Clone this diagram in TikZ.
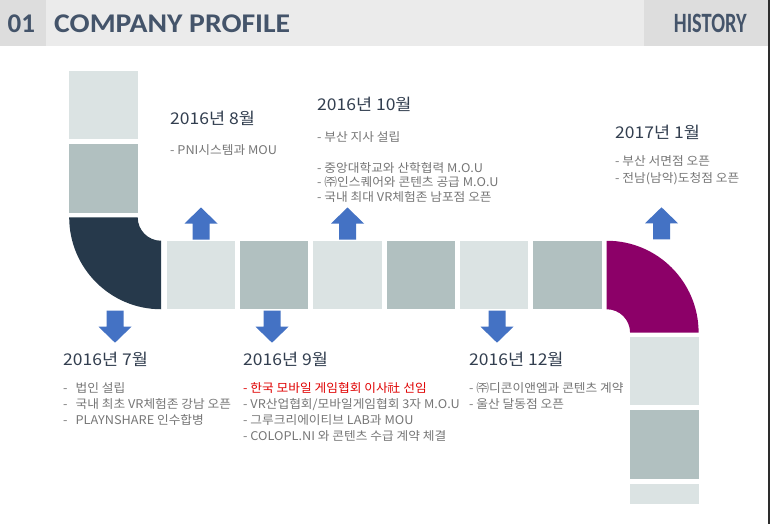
\documentclass[tikz,border=0pt]{standalone}
\usepackage{fontspec}
\setmainfont{Carlito}
\newfontfamily\kr{Noto Sans CJK KR}[FakeStretch=1.08]
\newfontfamily\krb{Noto Sans CJK KR}[FakeStretch=1.06]
\definecolor{hdrband}{RGB}{235,235,235}
\definecolor{hdrbox}{RGB}{221,221,221}
\definecolor{hdrtext}{RGB}{68,84,106}
\definecolor{sqlight}{RGB}{219,227,227}
\definecolor{sqdark}{RGB}{177,192,192}
\definecolor{navy}{RGB}{38,57,75}
\definecolor{plum}{RGB}{140,0,104}
\definecolor{arrowblue}{RGB}{68,114,196}
\definecolor{titlec}{RGB}{50,62,79}
\definecolor{bulletc}{RGB}{118,118,118}
\definecolor{redc}{RGB}{224,0,0}
\definecolor{edgeline}{RGB}{45,45,45}
\tikzset{
  sqbox/.style={minimum size=68.5pt, inner sep=0pt, draw=none},
  hdr/.style={anchor=base west, inner sep=0pt, text=hdrtext, font=\bfseries\fontsize{27}{27}\selectfont},
  yeartitle/.style={anchor=base west, inner sep=0pt, text=titlec, font=\kr\fontsize{16.2}{16.2}\selectfont},
  bul/.style={anchor=base west, inner sep=0pt, text=bulletc, font=\krb\fontsize{12}{12}\selectfont},
  uparrow/.pic={\fill[arrowblue] (0,-16) -- (16.5,0) -- (8.5,0) -- (8.5,16) -- (-8.5,16) -- (-8.5,0) -- (-16.5,0) -- cycle;}
}
\begin{document}
\begin{tikzpicture}[x=1pt,y=-1pt]
\fill[white] (0,0) rectangle (773,524);
\useasboundingbox (0,0) rectangle (773,524);
% header
\fill[hdrband] (0,0) rectangle (768,45.7);
\fill[hdrbox] (0,0) rectangle (45.8,45.7);
\fill[hdrbox] (644,0) rectangle (768,45.7);
\fill[edgeline] (768,0) rectangle (770,524);
\node[hdr] (num) at (7.5,33) {01};
\node[hdr] (ttl) at (54,33) {\scalebox{1.1}[1]{COMPANY PROFILE}};
\node[hdr, anchor=base east, font=\bfseries\fontsize{28}{28}\selectfont] (hist) at (747,33) {\scalebox{0.73}[1]{HISTORY}};
% left column
\node[sqbox, fill=sqlight] (l1) at (103.4,105.1) {};
\node[sqbox, fill=sqdark] (l2) at (103.4,178.5) {};
\fill[navy] (137.7,217.35) -- (69.2,217.35) arc[start angle=180, end angle=90, radius=91.9] -- (161.1,240.75) arc[start angle=90, end angle=180, radius=23.4] -- cycle;
% row
\node[sqbox, fill=sqlight] (r1) at (200.75,275) {};
\node[sqbox, fill=sqdark] (r2) at (274.1,275) {};
\node[sqbox, fill=sqlight] (r3) at (347.45,275) {};
\node[sqbox, fill=sqdark] (r4) at (420.8,275) {};
\node[sqbox, fill=sqlight] (r5) at (494.15,275) {};
\node[sqbox, fill=sqdark] (r6) at (567.5,275) {};
% right elbow
\fill[plum] (606.7,309.25) -- (606.7,240.75) arc[start angle=270, end angle=360, radius=91.9] -- (630.1,332.65) arc[start angle=0, end angle=-90, radius=23.4] -- cycle;
% right column
\node[sqbox, fill=sqlight] (c1) at (664.35,371.15) {};
\node[sqbox, fill=sqdark] (c2) at (664.35,444.5) {};
\fill[sqlight] (630.1,483.6) rectangle (698.6,503.5);
% arrows
\pic at (201,223.5) {uparrow};
\pic at (347.5,223.5) {uparrow};
\pic at (661.5,223.3) {uparrow};
\pic[rotate=180] at (115,326.7) {uparrow};
\pic[rotate=180] at (272,326.7) {uparrow};
\pic[rotate=180] at (497,326.7) {uparrow};
% 2016.8
\node[yeartitle] (t8) at (170,124.5) {2016년 8월};
\node[bul] (b8a) at (170,154.4) {- PNI시스템과 MOU};
% 2016.10
\node[yeartitle] (t10) at (317,111) {2016년 10월};
\node[bul] (b10a) at (317,141) {- 부산 지사 설립};
\node[bul] (b10b) at (317,172.6) {- 중앙대학교와 산학협력 M.O.U};
\node[bul] (b10c) at (317,186.8) {- ㈜인스퀘어와 콘텐츠 공급 M.O.U};
\node[bul] (b10d) at (317,201) {- 국내 최대 VR체험존 남포점 오픈};
% 2017.1
\node[yeartitle] (t1) at (615,139) {2017년 1월};
\node[bul] (b1a) at (615,165.4) {- 부산 서면점 오픈};
\node[bul] (b1b) at (615,182.4) {- 전남(남악)도청점 오픈};
% 2016.7
\node[yeartitle] (t7) at (63,365.5) {2016년 7월};
\node[bul] (b7a) at (63,392.4) {-\hspace{8pt}법인 설립};
\node[bul] (b7b) at (63,408.4) {-\hspace{8pt}국내 최초 VR체험존 강남 오픈};
\node[bul] (b7c) at (63,424.4) {-\hspace{8pt}PLAYNSHARE 인수합병};
% 2016.9
\node[yeartitle] (t9) at (243,365.5) {2016년 9월};
\node[bul, text=redc] (b9a) at (243,392.4) {- 한국 모바일 게임협회 이사社 선임};
\node[bul] (b9b) at (243,408.4) {- VR산업협회/모바일게임협회 3자 M.O.U};
\node[bul] (b9c) at (243,424.4) {- 그루크리에이티브 LAB과 MOU};
\node[bul] (b9d) at (243,440.4) {- COLOPL.NI 와 콘텐츠 수급 계약 체결};
% 2016.12
\node[yeartitle] (t12) at (469,365.5) {2016년 12월};
\node[bul] (b12a) at (469,392.4) {- ㈜디콘이앤엠과 콘텐츠 계약};
\node[bul] (b12b) at (469,408.4) {- 울산 달동점 오픈};
\end{tikzpicture}
\end{document}
